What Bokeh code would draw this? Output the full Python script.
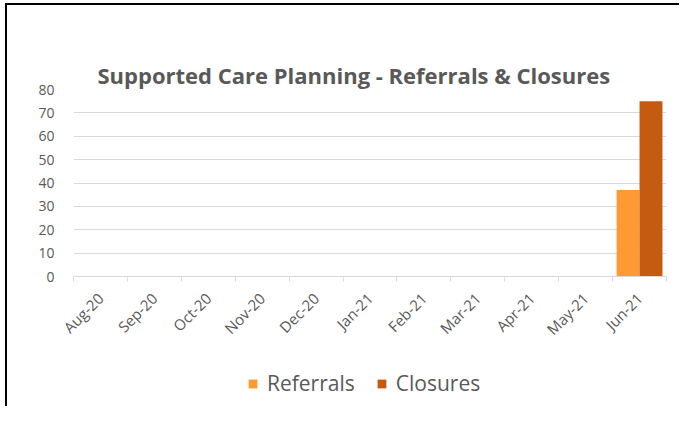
from bokeh.plotting import figure
from bokeh.layouts import column
from bokeh.models import FixedTicker, Legend, LegendItem, Title, ColumnDataSource
from bokeh.embed import file_html
from bokeh.resources import INLINE
import math

months = ["Aug-20", "Sep-20", "Oct-20", "Nov-20", "Dec-20", "Jan-21",
          "Feb-21", "Mar-21", "Apr-21", "May-21", "Jun-21"]
referrals = [0, 0, 0, 0, 0, 0, 0, 0, 0, 0, 37]
closures = [0, 0, 0, 0, 0, 0, 0, 0, 0, 0, 75]
y_ticks = [0, 10, 20, 30, 40, 50, 60, 70, 80]
series_names = ["Referrals", "Closures"]
series_colors = ["#FF9933", "#C55A11"]
chart_title = "Supported Care Planning - Referrals & Closures"

TEXT = "#595959"
FONT = "Open Sans"

idx = list(range(len(months)))
src = ColumnDataSource(dict(
    xr=[i - 0.2125 for i in idx],
    xc=[i + 0.2125 for i in idx],
    ref=referrals,
    clo=closures,
))

p = figure(width=679, height=350, output_backend="svg", toolbar_location=None,
           x_range=(-0.5, len(months) - 0.5), y_range=(0, 80),
           min_border_left=73, min_border_right=13, min_border_top=89,
           min_border_bottom=74)

p.outline_line_color = None
p.background_fill_color = "white"
p.border_fill_alpha = 0

p.vbar(x="xr", top="ref", width=0.425, bottom=0, source=src,
       fill_color=series_colors[0], line_color=None)
p.vbar(x="xc", top="clo", width=0.425, bottom=0, source=src,
       fill_color=series_colors[1], line_color=None)

# x axis
xa = p.xaxis[0]
xa.ticker = FixedTicker(ticks=idx, minor_ticks=[i - 0.5 for i in idx] + [len(months) - 0.5])
xa.major_label_overrides = {i: m for i, m in enumerate(months)}
xa.major_label_orientation = math.pi / 4
xa.major_tick_line_color = None
xa.major_tick_out = 0
xa.major_tick_in = 0
xa.minor_tick_line_color = "#D9D9D9"
xa.minor_tick_out = 5
xa.minor_tick_in = 0
xa.axis_line_color = "#D9D9D9"
xa.major_label_text_color = TEXT
xa.major_label_text_font = FONT
xa.major_label_text_font_size = "15px"
xa.major_label_standoff = 14

# y axis
ya = p.yaxis[0]
ya.ticker = FixedTicker(ticks=y_ticks)
ya.axis_line_color = None
ya.major_tick_line_color = None
ya.minor_tick_line_color = None
ya.major_tick_out = 0
ya.major_label_text_color = TEXT
ya.major_label_text_font = FONT
ya.major_label_text_font_size = "14px"
ya.major_label_standoff = 19

p.xgrid.grid_line_color = None
p.ygrid.grid_line_color = "#D9D9D9"
p.ygrid.ticker = FixedTicker(ticks=y_ticks)

# real title first (outer), then a spacer between it and the frame
p.add_layout(Title(text=chart_title, align="left", text_font=FONT,
                   text_font_size="22px", text_font_style="bold",
                   text_color=TEXT, standoff=0, offset=24), "above")
p.add_layout(Title(text=" ", text_font_size="1px", standoff=33, text_alpha=0), "above")

# legend strip (separate figure, below the chart)
lf = figure(width=679, height=56, output_backend="svg", toolbar_location=None,
            x_range=(0, 1), y_range=(0, 1), x_axis_location=None, y_axis_location=None,
            min_border=0, min_border_left=0, min_border_right=0,
            min_border_top=0, min_border_bottom=0)
lf.outline_line_color = None
lf.grid.visible = False
lf.background_fill_alpha = 0
lf.border_fill_alpha = 0
items = []
for name, col in zip(series_names, series_colors):
    # swatch-only renderer: a zero-height bar placed outside the visible range
    r = lf.vbar(x=[-1], top=[0], width=0.1, fill_color=col, line_color=None)
    items.append(LegendItem(label=name, renderers=[r]))
legend = Legend(items=items, orientation="horizontal", location=(174, 9),
                label_text_font=FONT, label_text_font_size="21px",
                label_text_color=TEXT, glyph_width=11, glyph_height=11,
                spacing=21, border_line_color=None, background_fill_alpha=0,
                margin=0, padding=0, label_standoff=9)
lf.add_layout(legend, "center")

layout = column(p, lf, spacing=0)
layout.styles = {"background": "linear-gradient(#000, #000) 5px 3px / 2px 100% no-repeat, "
                               "linear-gradient(#000, #000) 5px 3px / 100% 2px no-repeat, #fff"}

open("out.html", "w").write(file_html(layout, INLINE))
